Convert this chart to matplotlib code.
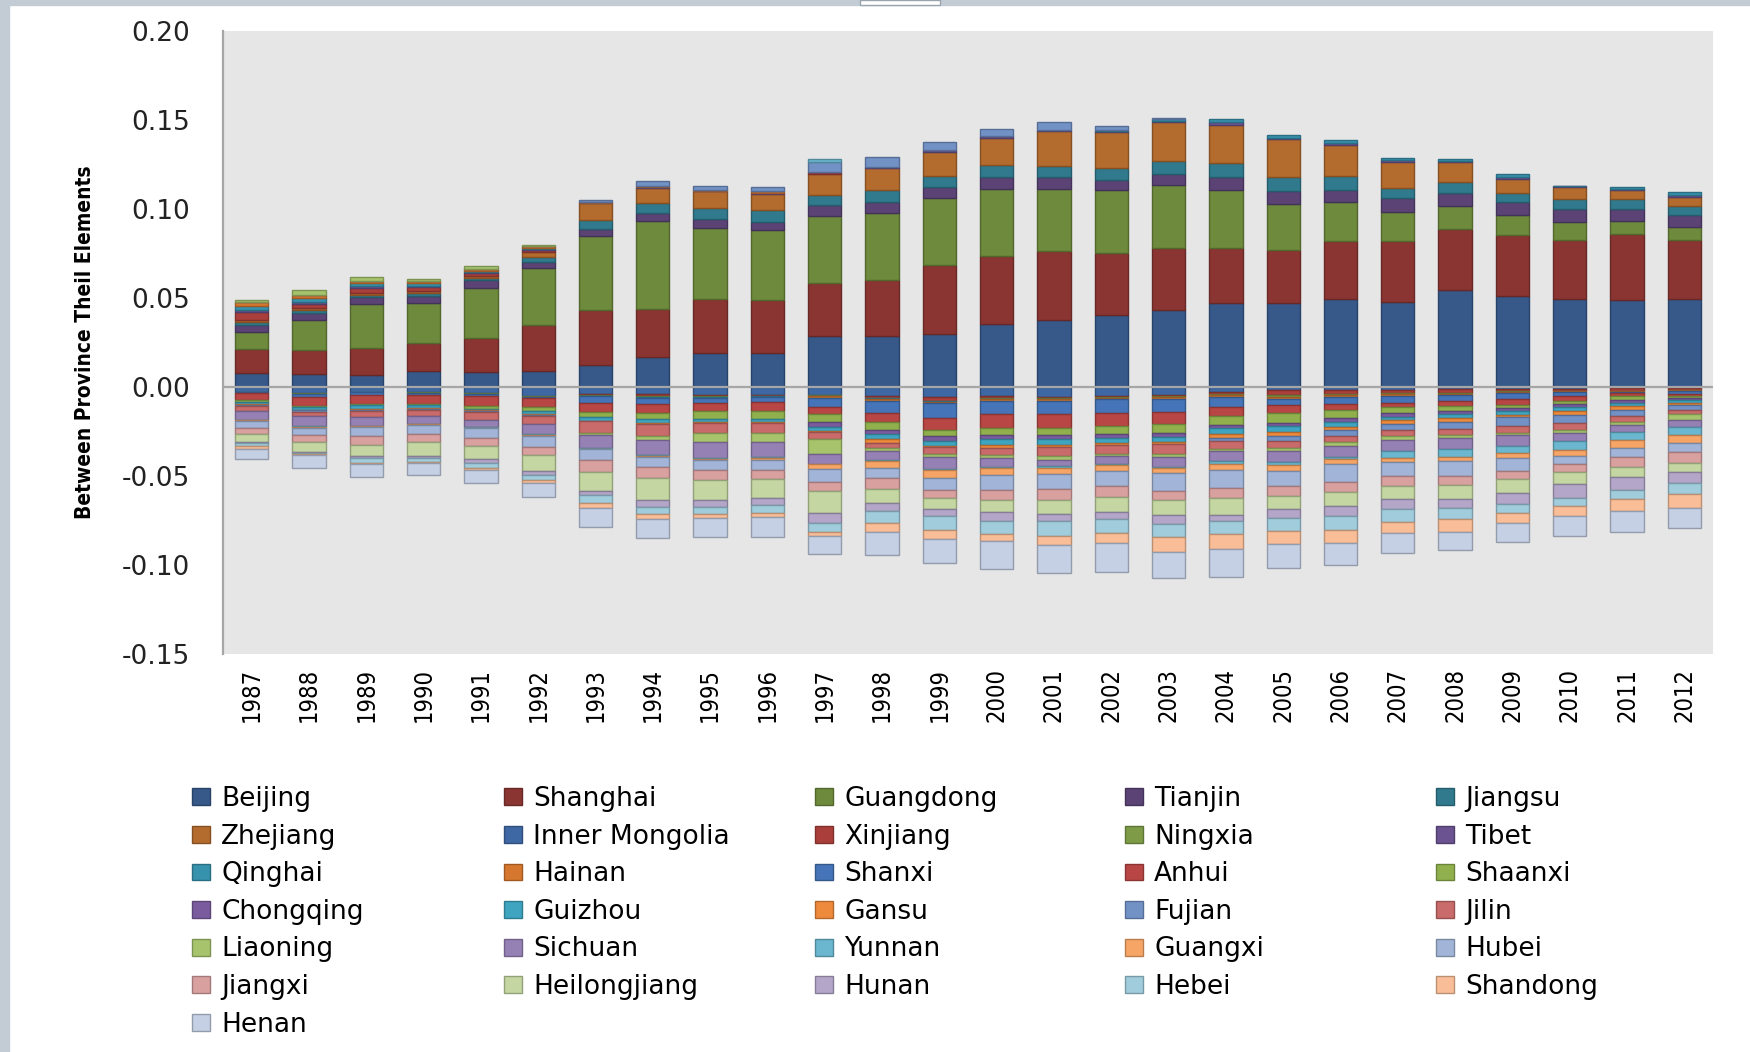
import matplotlib
matplotlib.use("Agg")
import matplotlib.pyplot as plt
import matplotlib.colors as mcolors
from matplotlib.patches import Rectangle
import numpy as np

plt.rcParams['axes.unicode_minus'] = False
narrow = ["DejaVu Sans Condensed", "DejaVu Sans"]

years = [str(y) for y in range(1987, 2013)]

provinces = ["Beijing", "Shanghai", "Guangdong", "Tianjin", "Jiangsu", "Zhejiang",
             "Inner Mongolia", "Xinjiang", "Ningxia", "Tibet", "Qinghai", "Hainan",
             "Shanxi", "Anhui", "Shaanxi", "Chongqing", "Guizhou", "Gansu",
             "Fujian", "Jilin", "Liaoning", "Sichuan", "Yunnan", "Guangxi",
             "Hubei", "Jiangxi", "Heilongjiang", "Hunan", "Hebei", "Shandong", "Henan"]

colors = ["#36598A", "#8B3533", "#6E8A3C", "#5B4475", "#317A8E", "#B36B2E",
          "#3E68A4", "#A93E3B", "#7E9C47", "#6B5290", "#3792AD", "#D5772F",
          "#4575B8", "#B84645", "#8FB04D", "#7A5C9E", "#3FA4C0", "#EE8A3C",
          "#7292C6", "#C86B6A", "#A7C46D", "#9681B5", "#6AB7CF", "#F7A566",
          "#A2B5D8", "#D9A0A0", "#C4D6A1", "#B3A6C8", "#A0CCDC", "#F9BE98", "#C5D0E5"]

# values, 1987..2012
beijing = [0.0077, 0.0075, 0.0067, 0.0090, 0.0084, 0.0090, 0.0122, 0.0169, 0.0193, 0.0193, 0.0287, 0.0287, 0.0300, 0.0352, 0.0375, 0.0403, 0.0431, 0.0472, 0.0472, 0.0496, 0.0478, 0.0543, 0.0509, 0.0496, 0.0491, 0.0496]
shanghai = [0.0139, 0.0131, 0.0154, 0.0160, 0.0189, 0.0257, 0.0311, 0.0272, 0.0300, 0.0294, 0.0300, 0.0313, 0.0386, 0.0384, 0.0390, 0.0350, 0.0348, 0.0307, 0.0296, 0.0326, 0.0345, 0.0345, 0.0347, 0.0332, 0.0371, 0.0332]
guangdong = [0.0094, 0.0172, 0.0243, 0.0221, 0.0285, 0.0322, 0.0416, 0.0493, 0.0403, 0.0395, 0.0375, 0.0375, 0.0375, 0.0378, 0.0350, 0.0352, 0.0358, 0.0326, 0.0262, 0.0215, 0.0161, 0.0131, 0.0109, 0.0097, 0.0073, 0.0071]
tianjin = [0.0039, 0.0039, 0.0043, 0.0041, 0.0041, 0.0036, 0.0041, 0.0043, 0.0047, 0.0045, 0.0060, 0.0062, 0.0060, 0.0066, 0.0066, 0.0060, 0.0062, 0.0075, 0.0069, 0.0067, 0.0075, 0.0071, 0.0075, 0.0077, 0.0066, 0.0069]
jiangsu = [0.0015, 0.0015, 0.0012, 0.0015, 0.0015, 0.0026, 0.0051, 0.0058, 0.0064, 0.0066, 0.0058, 0.0071, 0.0066, 0.0066, 0.0058, 0.0066, 0.0069, 0.0079, 0.0079, 0.0079, 0.0060, 0.0060, 0.0052, 0.0054, 0.0056, 0.0051]
zhejiang = [0.0010, 0.0012, 0.0008, 0.0010, 0.0012, 0.0030, 0.0090, 0.0082, 0.0092, 0.0094, 0.0116, 0.0122, 0.0135, 0.0155, 0.0200, 0.0202, 0.0219, 0.0215, 0.0217, 0.0178, 0.0144, 0.0112, 0.0079, 0.0067, 0.0049, 0.0049]
inner_mongolia = [-0.0026, -0.0035, -0.0026, -0.0030, -0.0034, -0.0050, -0.0040, -0.0040, -0.0045, -0.0045, -0.0045, -0.0050, -0.0055, -0.0048, -0.0055, -0.0048, -0.0044, -0.0030, -0.0015, -0.0015, -0.0015, -0.0013, -0.0010, -0.0010, -0.0008, -0.0008]
xinjiang = [0.0045, 0.0025, 0.0030, 0.0025, 0.0015, 0.0010, -0.0005, -0.0012, -0.0008, -0.0004, 0.0010, -0.0010, -0.0022, -0.0015, -0.0008, -0.0010, -0.0008, -0.0012, -0.0030, -0.0023, -0.0020, -0.0018, -0.0015, -0.0012, -0.0012, -0.0008]
ningxia = [-0.0004, -0.0004, -0.0004, -0.0004, -0.0004, -0.0004, -0.0004, -0.0004, -0.0004, -0.0004, -0.0004, -0.0004, -0.0004, -0.0004, -0.0004, -0.0004, -0.0004, -0.0004, -0.0010, -0.0008, -0.0006, -0.0006, -0.0003, -0.0003, -0.0003, -0.0003]
tibet = [0.0015, 0.0010, 0.0010, 0.0008, 0.0005, 0.0003, 0.0003, 0.0005, 0.0003, 0.0005, 0.0004, 0.0008, 0.0007, 0.0007, 0.0007, 0.0005, 0.0008, 0.0016, 0.0006, 0.0010, 0.0012, 0.0008, 0.0010, 0.0004, 0.0008, 0.0010]
qinghai = [0.0020, 0.0022, 0.0015, 0.0012, 0.0008, 0.0005, -0.0003, -0.0003, -0.0003, -0.0003, -0.0003, -0.0003, -0.0003, -0.0003, -0.0003, 0.0007, 0.0008, 0.0016, 0.0013, 0.0014, 0.0013, 0.0011, 0.0013, 0.0005, 0.0010, 0.0018]
hainan = [0.0025, 0.0018, 0.0015, 0.0015, 0.0010, 0.0012, 0.0007, 0.0010, 0.0007, 0.0008, -0.0008, -0.0012, -0.0005, -0.0008, -0.0010, -0.0007, -0.0012, -0.0008, -0.0012, -0.0010, -0.0008, -0.0008, -0.0003, -0.0003, -0.0003, -0.0003]
shanxi = [-0.0005, -0.0015, -0.0015, -0.0012, -0.0015, -0.0010, -0.0037, -0.0035, -0.0031, -0.0031, -0.0053, -0.0065, -0.0086, -0.0075, -0.0071, -0.0075, -0.0071, -0.0056, -0.0035, -0.0040, -0.0041, -0.0032, -0.0038, -0.0021, -0.0006, -0.0015]
anhui = [-0.0040, -0.0052, -0.0052, -0.0049, -0.0051, -0.0049, -0.0052, -0.0050, -0.0046, -0.0046, -0.0041, -0.0051, -0.0065, -0.0079, -0.0081, -0.0075, -0.0067, -0.0052, -0.0045, -0.0031, -0.0025, -0.0032, -0.0034, -0.0029, -0.0021, -0.0011]
shaanxi = [-0.0012, -0.0008, -0.0006, -0.0008, -0.0017, -0.0022, -0.0030, -0.0036, -0.0044, -0.0044, -0.0044, -0.0047, -0.0037, -0.0040, -0.0039, -0.0044, -0.0053, -0.0052, -0.0053, -0.0048, -0.0032, -0.0027, -0.0017, -0.0017, -0.0019, -0.0015]
chongqing = [0, 0, 0, 0, 0, 0, 0, 0, 0, 0, -0.0024, -0.0024, -0.0024, -0.0021, -0.0019, -0.0021, -0.0021, -0.0019, -0.0018, -0.0021, -0.0019, -0.0017, -0.0015, -0.0017, -0.0017, -0.0010]
guizhou = [-0.0010, -0.0013, -0.0021, -0.0015, -0.0011, -0.0019, -0.0018, -0.0024, -0.0018, -0.0018, -0.0024, -0.0028, -0.0028, -0.0035, -0.0035, -0.0028, -0.0030, -0.0031, -0.0033, -0.0027, -0.0021, -0.0021, -0.0021, -0.0021, -0.0017, -0.0017]
gansu = [-0.0003, -0.0004, -0.0004, -0.0004, -0.0004, -0.0004, -0.0004, -0.0006, -0.0006, -0.0006, -0.0007, -0.0019, -0.0010, -0.0012, -0.0012, -0.0015, -0.0013, -0.0021, -0.0024, -0.0021, -0.0021, -0.0021, -0.0015, -0.0027, -0.0021, -0.0011]
fujian = [-0.0008, -0.0011, -0.0005, -0.0006, -0.0006, -0.0005, 0.0010, 0.0027, 0.0022, 0.0025, 0.0052, 0.0052, 0.0050, 0.0040, 0.0040, 0.0020, 0.0008, -0.0019, -0.0028, -0.0031, -0.0034, -0.0042, -0.0046, -0.0043, -0.0038, -0.0027]
jilin = [-0.0025, -0.0023, -0.0036, -0.0036, -0.0043, -0.0045, -0.0068, -0.0064, -0.0056, -0.0056, -0.0040, -0.0031, -0.0040, -0.0040, -0.0051, -0.0051, -0.0055, -0.0043, -0.0040, -0.0036, -0.0032, -0.0034, -0.0040, -0.0040, -0.0029, -0.0025]
liaoning = [0.0010, 0.0025, 0.0022, 0.0010, 0.0015, 0.0005, -0.0009, -0.0026, -0.0050, -0.0050, -0.0084, -0.0015, -0.0016, -0.0021, -0.0021, -0.0010, -0.0013, -0.0015, -0.0018, -0.0021, -0.0025, -0.0017, -0.0012, -0.0013, -0.0019, -0.0031]
sichuan = [-0.0052, -0.0056, -0.0048, -0.0042, -0.0040, -0.0058, -0.0072, -0.0084, -0.0088, -0.0088, -0.0055, -0.0051, -0.0065, -0.0049, -0.0035, -0.0044, -0.0056, -0.0056, -0.0061, -0.0060, -0.0063, -0.0061, -0.0063, -0.0048, -0.0038, -0.0040]
yunnan = [-0.0003, -0.0004, -0.0004, -0.0004, -0.0004, -0.0004, -0.0004, -0.0004, -0.0004, -0.0004, 0.0019, -0.0004, -0.0006, -0.0006, -0.0009, -0.0005, -0.0009, -0.0015, -0.0016, -0.0015, -0.0036, -0.0042, -0.0040, -0.0048, -0.0046, -0.0048]
guangxi = [-0.0003, -0.0003, -0.0003, -0.0003, -0.0003, -0.0003, -0.0003, -0.0006, -0.0009, -0.0009, -0.0028, -0.0039, -0.0046, -0.0040, -0.0035, -0.0035, -0.0026, -0.0031, -0.0035, -0.0025, -0.0025, -0.0024, -0.0027, -0.0038, -0.0046, -0.0041]
hubei = [-0.0038, -0.0040, -0.0052, -0.0053, -0.0053, -0.0062, -0.0062, -0.0055, -0.0057, -0.0057, -0.0074, -0.0057, -0.0067, -0.0082, -0.0087, -0.0085, -0.0103, -0.0103, -0.0082, -0.0100, -0.0078, -0.0085, -0.0072, -0.0044, -0.0050, -0.0052]
jiangxi = [-0.0035, -0.0043, -0.0048, -0.0044, -0.0047, -0.0045, -0.0064, -0.0060, -0.0051, -0.0051, -0.0051, -0.0065, -0.0044, -0.0059, -0.0058, -0.0060, -0.0051, -0.0054, -0.0056, -0.0060, -0.0053, -0.0053, -0.0048, -0.0046, -0.0057, -0.0060]
heilongjiang = [-0.0044, -0.0055, -0.0062, -0.0075, -0.0072, -0.0092, -0.0112, -0.0127, -0.0115, -0.0110, -0.0121, -0.0075, -0.0060, -0.0066, -0.0079, -0.0085, -0.0085, -0.0096, -0.0075, -0.0074, -0.0078, -0.0078, -0.0074, -0.0066, -0.0057, -0.0052]
hunan = [-0.0004, -0.0004, -0.0015, -0.0015, -0.0022, -0.0024, -0.0022, -0.0040, -0.0037, -0.0035, -0.0058, -0.0047, -0.0044, -0.0049, -0.0040, -0.0039, -0.0049, -0.0038, -0.0049, -0.0057, -0.0051, -0.0051, -0.0067, -0.0076, -0.0071, -0.0060]
hebei = [-0.0022, -0.0006, -0.0025, -0.0022, -0.0030, -0.0026, -0.0040, -0.0035, -0.0044, -0.0046, -0.0053, -0.0067, -0.0074, -0.0075, -0.0083, -0.0081, -0.0074, -0.0073, -0.0072, -0.0083, -0.0076, -0.0058, -0.0048, -0.0044, -0.0053, -0.0066]
shandong = [-0.0013, -0.0005, -0.0006, -0.0004, -0.0009, -0.0015, -0.0030, -0.0030, -0.0022, -0.0023, -0.0019, -0.0053, -0.0053, -0.0040, -0.0053, -0.0055, -0.0081, -0.0082, -0.0075, -0.0073, -0.0059, -0.0076, -0.0057, -0.0058, -0.0067, -0.0076]
henan = [-0.0060, -0.0076, -0.0075, -0.0068, -0.0076, -0.0082, -0.0105, -0.0106, -0.0106, -0.0110, -0.0104, -0.0125, -0.0137, -0.0155, -0.0155, -0.0160, -0.0148, -0.0155, -0.0137, -0.0120, -0.0114, -0.0102, -0.0108, -0.0112, -0.0115, -0.0114]

series = [beijing, shanghai, guangdong, tianjin, jiangsu, zhejiang,
          inner_mongolia, xinjiang, ningxia, tibet, qinghai, hainan,
          shanxi, anhui, shaanxi, chongqing, guizhou, gansu,
          fujian, jilin, liaoning, sichuan, yunnan, guangxi,
          hubei, jiangxi, heilongjiang, hunan, hebei, shandong, henan]

W, H = 1750, 1052
fig = plt.figure(figsize=(W / 100, H / 100), dpi=100)
fig.patch.set_facecolor("white")

# screenshot frame
fig.patches.append(Rectangle((0, 0), 9 / W, 1, transform=fig.transFigure, color="#C3CCD4", zorder=0))
fig.patches.append(Rectangle((0, 1 - 5 / H), 1, 5 / H, transform=fig.transFigure, color="#C3CCD4", zorder=0))
fig.patches.append(Rectangle((860 / W, 1 - 5 / H), 80 / W, 5 / H, transform=fig.transFigure,
                             facecolor="white", edgecolor="#9AA4AD", lw=1, zorder=1))

ax = fig.add_axes([223 / W, 1 - 654 / H, 1490 / W, 623 / H])
ax.set_facecolor("#E6E6E6")

x = np.arange(len(years))
pos_bottom = np.zeros(len(years))
neg_bottom = np.zeros(len(years))
handles = []
for name, vals, col in zip(provinces, series, colors):
    v = np.array(vals)
    bottom = np.where(v >= 0, pos_bottom, neg_bottom)
    edge = tuple(c * 0.75 for c in mcolors.to_rgb(col))
    b = ax.bar(x, v, 0.58, bottom=bottom, color=col, edgecolor=edge, linewidth=1.0,
               label=name, zorder=2)
    handles.append(b)
    pos_bottom = pos_bottom + np.where(v >= 0, v, 0)
    neg_bottom = neg_bottom + np.where(v < 0, v, 0)

ax.axhline(0, color="#A6A6A6", lw=1.6, zorder=3)
ax.set_xlim(-0.5, len(years) - 0.5)
ax.set_ylim(-0.15, 0.20)
ticks = np.arange(-0.15, 0.201, 0.05)
ax.set_yticks(ticks)
ax.set_yticklabels([f"{t:.2f}" for t in ticks], fontsize=19, color="#222222")
ax.set_xticks(x)
ax.set_xticklabels(years, rotation=90, fontsize=17, family=narrow, fontstretch="condensed")
ax.tick_params(axis="y", length=0, pad=24)
ax.tick_params(axis="x", length=0, pad=10)
for s in ["top", "right", "bottom"]:
    ax.spines[s].set_visible(False)
ax.spines["left"].set_color("#A6A6A6")
ax.spines["left"].set_linewidth(1.6)

ax.set_ylabel("Between Province Theil Elements", fontsize=15, fontweight="bold",
              family=narrow, fontstretch="condensed")
ax.yaxis.set_label_coords(-0.086, 0.5)

# legend in five columns, filled row by row
col_x = [192, 504, 815, 1125, 1436]
for c in range(5):
    hs = handles[c::5]
    fig.legend(hs, [h.get_label() for h in hs], loc="upper left",
               bbox_to_anchor=(col_x[c] / W, 1 - 786 / H), frameon=False,
               fontsize=19, handlelength=0.7, handleheight=0.6, handletextpad=0.4,
               labelspacing=0.44, borderpad=0, borderaxespad=0)

fig.savefig("out.png", dpi=100)
